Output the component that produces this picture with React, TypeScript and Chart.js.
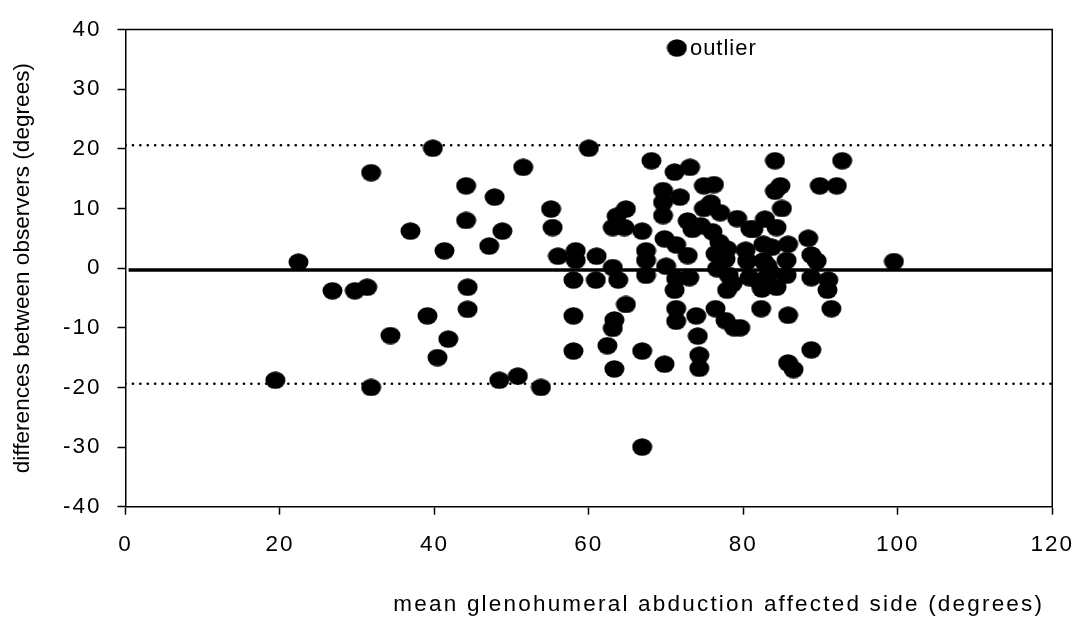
import React, { useEffect, useRef } from 'react';
import { Chart, registerables } from 'chart.js';

Chart.register(...registerables);

// mean glenohumeral abduction, affected side (degrees)
const MEAN_ABDUCTION = [
  19.4, 22.4, 26.8, 29.7, 31.3, 31.8, 31.8, 34.3, 36.9, 39.1, 39.8, 40.4, 41.3, 41.8, 44.1, 44.1, 44.3, 44.3, 47.1, 47.8,
  48.4, 48.8, 50.8, 51.5, 53.8, 55.1, 55.3, 56.0,
  58.3, 58.3, 58.0, 58.0, 58.0, 60.0, 61.0, 60.9, 63.1, 63.8, 63.6, 64.8, 63.1, 64.6, 66.9, 64.8, 63.3, 63.1, 62.4, 63.3,
  66.9, 66.9, 67.4, 67.4, 67.4, 68.1,
  69.6, 69.6, 69.6, 69.8, 70.0, 69.8, 71.1, 71.8, 71.3, 71.3, 71.1, 71.3, 71.3, 71.4, 72.8, 72.8, 73.0, 73.1, 73.4, 73.9,
  74.1, 74.3, 74.3,
  74.9, 76.2, 75.8, 74.9, 77.0, 74.5, 76.0, 76.9, 76.4, 77.7, 76.6, 78.1, 78.6, 77.9, 76.4, 77.7, 78.8, 79.6, 79.2, 80.9,
  80.3, 80.5, 80.8, 77.9,
  82.8, 81.3, 84.3, 85.0, 84.1, 84.8, 84.1, 85.8, 82.6, 83.7, 82.6, 83.1, 83.5, 82.8, 82.2, 82.4, 84.3, 85.6, 85.6, 82.3,
  85.8, 85.8, 86.5, 88.4, 88.8, 89.5, 88.8, 91.0, 90.9, 91.4, 88.8, 89.9, 92.1, 92.8, 99.5,
];

// differences between observers (degrees)
const DIFFERENCES = [
  -18.8, 1.0, -3.8, -3.8, -3.2, 16.0, -20.0, -11.3, 6.2, -8.0, 20.1, -15.0, 2.9, -11.9, 13.8, 8.0, -3.2, -6.9, 3.7, 11.9,
  -18.8, 6.2, -18.1, 16.9, -20.0, 9.9, 6.8, 2.0,
  2.9, 1.3, -2.0, -8.0, -13.9, 20.1, 2.0, -2.0, 0.1, -2.0, 8.7, 9.9, 6.8, 6.8, 6.2, -6.1, -8.7, -10.1, -13.0, -16.9,
  -13.9, -30.0, 2.9, 1.3, -1.2, 18.0,
  13.0, 11.0, 8.8, 4.9, 0.3, -16.1, 16.1, 11.9, 3.9, -1.8, -3.7, -6.8, -8.9, 36.9, 7.9, 2.1, -1.6, 16.9, 6.5, -8.0,
  -11.4, -14.6, -16.8,
  13.8, 14.0, 10.9, 10.0, 9.3, 7.1, 6.1, 4.3, 2.4, 1.5, -0.1, -1.2, -2.6, -3.7, -6.8, -8.8, -10.0, -10.0, 8.3, 6.6,
  3.0, 1.2, -1.6, 3.2,
  8.2, 6.5, 6.8, 10.0, 18.0, 13.8, 12.9, 4.0, 4.0, 3.5, 1.2, 0.4, -0.7, -1.8, -2.6, -3.5, -3.2, 1.3, -1.2, -6.8,
  -7.9, -15.9, -17.0, 5.0, 2.2, 1.2, -1.6, -2.0, -3.7, -6.8, -13.7, 13.8, 13.8, 18.0, 1.1,
];

const OUTLIER_LABEL = 'outlier';
const MEAN_DIFFERENCE = -0.3;
const UPPER_LIMIT = 20.6;
const LOWER_LIMIT = -19.4;
const MEAN_LINE_X = [0.4, 120];
const LIMIT_LINE_X = [0, 120];
const X_TICKS = [0, 20, 40, 60, 80, 100, 120];
const Y_TICKS = [-40, -30, -20, -10, 0, 10, 20, 30, 40];
const X_TITLE = 'mean glenohumeral abduction affected side (degrees)';
const Y_TITLE = 'differences between observers (degrees)';

const FONT_FAMILY = '"Liberation Sans", Arial, sans-serif';

export default function App() {
  const canvasRef = useRef<HTMLCanvasElement | null>(null);

  useEffect(() => {
    const canvas = canvasRef.current;
    if (!canvas) return;

    const dot = document.createElement('canvas');
    dot.width = 21;
    dot.height = 18;
    const dctx = dot.getContext('2d');
    if (dctx) {
      dctx.fillStyle = '#000';
      dctx.beginPath();
      dctx.ellipse(10.5, 9, 10, 8.8, 0, 0, Math.PI * 2);
      dctx.fill();
    }

    const outlierIndex = DIFFERENCES.indexOf(Math.max(...DIFFERENCES));

    const textPlugin = {
      id: 'textStyle',
      beforeDraw(chart: any) {
        chart.ctx.letterSpacing = '0px';
      },
      afterDatasetsDraw(chart: any) {
        chart.ctx.letterSpacing = '2px';
      },
      afterDraw(chart: any) {
        const ctx = chart.ctx;
        const xs = chart.scales.x;
        const ys = chart.scales.y;
        const x0 = xs.getPixelForValue(X_TICKS[0]);
        const x1 = xs.getPixelForValue(X_TICKS[X_TICKS.length - 1]);
        const y0 = ys.getPixelForValue(Y_TICKS[Y_TICKS.length - 1]);
        const y1 = ys.getPixelForValue(Y_TICKS[0]);
        ctx.save();
        ctx.letterSpacing = '0px';
        ctx.strokeStyle = '#000';
        ctx.lineWidth = 1.5;
        ctx.beginPath();
        ctx.moveTo(x0, y0);
        ctx.lineTo(x1, y0);
        ctx.lineTo(x1, y1);
        ctx.stroke();

        ctx.fillStyle = '#000';
        ctx.textBaseline = 'middle';

        ctx.letterSpacing = '1px';
        ctx.font = `22px ${FONT_FAMILY}`;
        ctx.textAlign = 'left';
        ctx.fillText(
          OUTLIER_LABEL,
          xs.getPixelForValue(MEAN_ABDUCTION[outlierIndex]) + 13,
          ys.getPixelForValue(DIFFERENCES[outlierIndex]) + 1
        );

        ctx.letterSpacing = '2.2px';
        ctx.font = `22.5px ${FONT_FAMILY}`;
        ctx.textAlign = 'right';
        ctx.fillText(X_TITLE, xs.right - 8, chart.height - 15);
        ctx.restore();
        ctx.letterSpacing = '0px';
      },
    };

    const points = MEAN_ABDUCTION.map((x, i) => ({ x, y: DIFFERENCES[i] }));
    const hLine = (xs: number[], y: number) => xs.map((x) => ({ x, y }));

    const chart = new Chart(canvas, {
      type: 'scatter',
      data: {
        datasets: [
          {
            label: 'differences',
            data: points,
            pointStyle: dot as any,
            pointRadius: 9,
            pointHoverRadius: 9,
            backgroundColor: '#000',
            borderColor: '#000',
            showLine: false,
          },
          {
            label: 'mean',
            data: hLine(MEAN_LINE_X, MEAN_DIFFERENCE),
            showLine: true,
            borderColor: '#000',
            borderWidth: 3.5,
            pointRadius: 0,
            fill: false,
          },
          {
            label: 'upper',
            data: hLine(LIMIT_LINE_X, UPPER_LIMIT),
            showLine: true,
            borderColor: '#000',
            borderWidth: 2.6,
            borderDash: [0.1, 7.3],
            borderCapStyle: 'round',
            pointRadius: 0,
            fill: false,
          },
          {
            label: 'lower',
            data: hLine(LIMIT_LINE_X, LOWER_LIMIT),
            showLine: true,
            borderColor: '#000',
            borderWidth: 2.6,
            borderDash: [0.1, 7.3],
            borderCapStyle: 'round',
            pointRadius: 0,
            fill: false,
          },
        ],
      },
      options: {
        animation: false,
        responsive: true,
        maintainAspectRatio: false,
        layout: { padding: { top: 25, right: 28.7, bottom: 0, left: 0 } },
        plugins: {
          legend: { display: false },
          tooltip: { enabled: false },
        },
        scales: {
          x: {
            type: 'linear',
            min: 0,
            max: 120,
            afterBuildTicks: (s: any) => {
              s.ticks = X_TICKS.map((v) => ({ value: v }));
            },
            afterFit: (s: any) => {
              s.height = 113.3;
            },
            grid: {
              display: true,
              drawOnChartArea: false,
              drawTicks: true,
              tickLength: 8,
              tickColor: '#000',
              tickWidth: 1.5,
            },
            border: { display: true, color: '#000', width: 1.5 },
            ticks: {
              color: '#000',
              font: { family: FONT_FAMILY, size: 22.5 },
              padding: 17,
              maxRotation: 0,
              autoSkip: false,
              z: 1,
            },
            title: { display: false },
          },
          y: {
            type: 'linear',
            min: -40,
            max: 40,
            afterBuildTicks: (s: any) => {
              s.ticks = Y_TICKS.map((v) => ({ value: v }));
            },
            afterFit: (s: any) => {
              s.width = 125.5;
            },
            grid: {
              display: true,
              drawOnChartArea: false,
              drawTicks: true,
              tickLength: 8,
              tickColor: '#000',
              tickWidth: 1.5,
            },
            border: { display: true, color: '#000', width: 1.5 },
            ticks: {
              color: '#000',
              font: { family: FONT_FAMILY, size: 22.5 },
              padding: 16,
              autoSkip: false,
              z: 1,
            },
            title: {
              display: true,
              text: Y_TITLE,
              color: '#000',
              font: { family: FONT_FAMILY, size: 22.6 },
              padding: { top: 9, bottom: 0 },
            },
          },
        },
      } as any,
      plugins: [textPlugin],
    });

    return () => {
      chart.destroy();
    };
  }, []);

  return (
    <div style={{ position: 'fixed', left: 0, top: 0, width: 1088, height: 620, background: '#fff' }}>
      <canvas ref={canvasRef} />
    </div>
  );
}
